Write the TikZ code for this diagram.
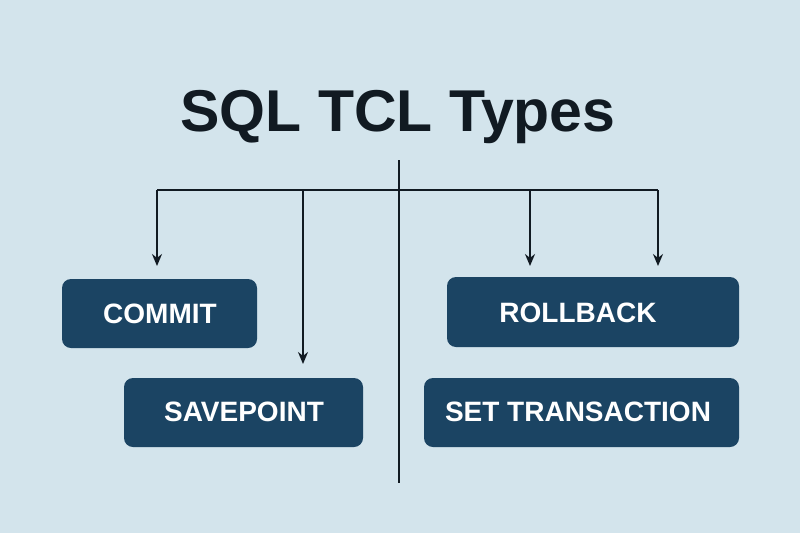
\documentclass[tikz,border=0pt]{standalone}
\usepackage{fontspec}
\setmainfont{Liberation Sans}
\usetikzlibrary{arrows.meta}
\definecolor{bg}{HTML}{D3E4EC}
\definecolor{navy}{HTML}{1B4463}
\definecolor{ink}{HTML}{111A22}
\tikzset{
  box/.style={draw=none,fill=navy,rounded corners=9pt,text=white,font=\bfseries\fontsize{28}{32}\selectfont},
  line/.style={draw=ink,line width=1.8pt},
  arr/.style={line,-{Stealth[length=12pt,width=10pt]}}
}
\begin{document}
\begin{tikzpicture}[x=1pt,y=-1pt]
\fill[bg] (0,0) rectangle (800,533);
\node[font=\bfseries\fontsize{59}{64}\selectfont,text=ink] (title) at (398,117) {SQL TCL Types};
\fill[box] (62,279) rectangle (257,348);
\node[box,fill=none] (commit) at (160,314) {COMMIT};
\fill[box] (124,378) rectangle (363,447);
\node[box,fill=none] (save) at (244,412) {SAVEPOINT};
\fill[box] (447,277) rectangle (739,347);
\node[box,fill=none] (roll) at (578,313) {ROLLBACK};
\fill[box] (424,378) rectangle (739,447);
\node[box,fill=none] (set) at (578,412) {SET TRANSACTION};
\coordinate (vt) at (399,160); \coordinate (vb) at (399,483);
\draw[line] (vt) -- (vb);
\coordinate (hl) at (157,190); \coordinate (hr) at (658,190);
\draw[line] (hl) -- (hr);
\coordinate (a1) at (157,266); \coordinate (a2) at (303,364);
\coordinate (a3) at (530,266); \coordinate (a4) at (658,266);
\coordinate (b2) at (303,190); \coordinate (b3) at (530,190);
\draw[arr] (hl) -- (a1);
\draw[arr] (b2) -- (a2);
\draw[arr] (b3) -- (a3);
\draw[arr] (hr) -- (a4);
\end{tikzpicture}
\end{document}
